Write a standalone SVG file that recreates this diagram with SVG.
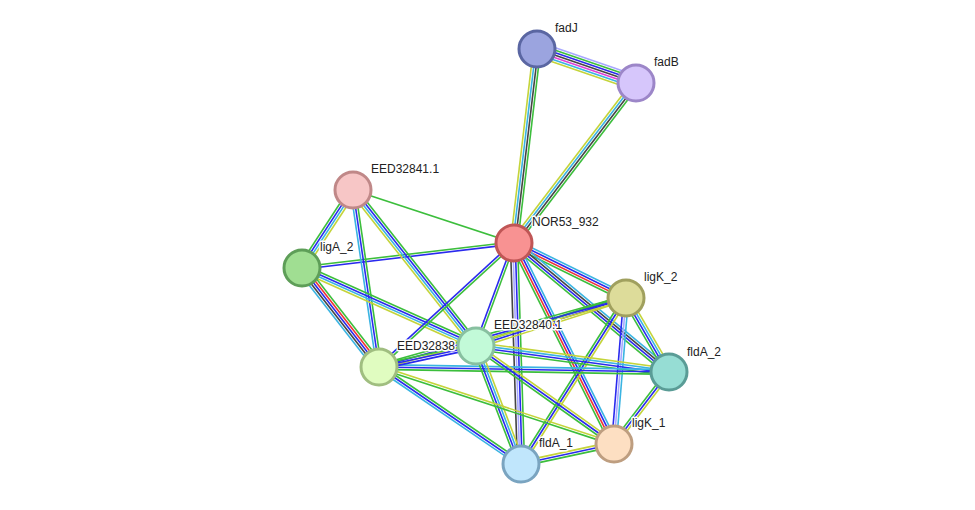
<svg xmlns="http://www.w3.org/2000/svg" width="975" height="510" viewBox="0 0 975 510">
<style>
path{fill:none;stroke-width:1.6}
.g{stroke:#3CBE3C}.b{stroke:#2A2AEE}.c{stroke:#3AB4E2}.y{stroke:#C4D43A}.k{stroke:#454545}.r{stroke:#EE3434}.m{stroke:#E040D6}.lv{stroke:#A8A8FF}
circle{stroke-width:3}
text{font-family:"Liberation Sans",Arial,sans-serif;font-size:12px;fill:#222;stroke:#fff;stroke-width:3px;paint-order:stroke;stroke-linejoin:round}
</style>
<rect width="975" height="510" fill="#fff"/>
<g id="edges">
<g transform="translate(537 49) rotate(18.95)"><path class="lv" d="M0-7.2H104.7"/><path class="g" d="M0-4.8H104.7"/><path class="b" d="M0-2.4H104.7"/><path class="k" d="M0 0H104.7"/><path class="m" d="M0 2.4H104.7"/><path class="c" d="M0 4.8H104.7"/><path class="y" d="M0 7.2H104.7"/></g>
<g transform="translate(537 49) rotate(96.76)"><path class="g" d="M0-3.6H195.4"/><path class="k" d="M0-1.2H195.4"/><path class="c" d="M0 1.2H195.4"/><path class="y" d="M0 3.6H195.4"/></g>
<g transform="translate(636 83) rotate(127.33)"><path class="g" d="M0-3.6H201.2"/><path class="k" d="M0-1.2H201.2"/><path class="c" d="M0 1.2H201.2"/><path class="y" d="M0 3.6H201.2"/></g>
<g transform="translate(353 190) rotate(18.22)"><path class="g" d="M0 0H169.5"/></g>
<g transform="translate(302 268) rotate(-6.73)"><path class="g" d="M0-1.2H213.5"/><path class="b" d="M0 1.2H213.5"/></g>
<g transform="translate(353 190) rotate(123.18)"><path class="y" d="M0-3.6H93.2"/><path class="c" d="M0-1.2H93.2"/><path class="b" d="M0 1.2H93.2"/><path class="g" d="M0 3.6H93.2"/></g>
<g transform="translate(353 190) rotate(81.64)"><path class="g" d="M0-2.4H178.9"/><path class="b" d="M0 0H178.9"/><path class="c" d="M0 2.4H178.9"/></g>
<g transform="translate(353 190) rotate(51.74)"><path class="g" d="M0-3.6H198.7"/><path class="b" d="M0-1.2H198.7"/><path class="c" d="M0 1.2H198.7"/><path class="y" d="M0 3.6H198.7"/></g>
<g transform="translate(302 268) rotate(52.13)"><path class="g" d="M0-4.8H125.4"/><path class="r" d="M0-2.4H125.4"/><path class="b" d="M0 0H125.4"/><path class="k" d="M0 2.4H125.4"/><path class="c" d="M0 4.8H125.4"/></g>
<g transform="translate(302 268) rotate(24.15)"><path class="g" d="M0-3.6H190.7"/><path class="b" d="M0-1.2H190.7"/><path class="c" d="M0 1.2H190.7"/><path class="y" d="M0 3.6H190.7"/></g>
<g transform="translate(514 243) rotate(137.43)"><path class="g" d="M0-1.2H183.3"/><path class="b" d="M0 1.2H183.3"/></g>
<g transform="translate(514 243) rotate(110.25)"><path class="g" d="M0-1.2H109.8"/><path class="b" d="M0 1.2H109.8"/></g>
<g transform="translate(514 243) rotate(88.19)"><path class="g" d="M0-3.6H221.1"/><path class="b" d="M0-1.2H221.1"/><path class="lv" d="M0 1.2H221.1"/><path class="k" d="M0 3.6H221.1"/></g>
<g transform="translate(514 243) rotate(26.16)"><path class="c" d="M0-3.6H124.8"/><path class="b" d="M0-1.2H124.8"/><path class="r" d="M0 1.2H124.8"/><path class="g" d="M0 3.6H124.8"/></g>
<g transform="translate(514 243) rotate(39.77)"><path class="c" d="M0-3.6H201.7"/><path class="k" d="M0-1.2H201.7"/><path class="b" d="M0 1.2H201.7"/><path class="g" d="M0 3.6H201.7"/></g>
<g transform="translate(514 243) rotate(63.55)"><path class="c" d="M0-3.6H224.5"/><path class="b" d="M0-1.2H224.5"/><path class="r" d="M0 1.2H224.5"/><path class="g" d="M0 3.6H224.5"/></g>
<g transform="translate(626 298) rotate(162.26)"><path class="y" d="M0-2.4H157.5"/><path class="b" d="M0 0H157.5"/><path class="g" d="M0 2.4H157.5" style="stroke-width:2.4"/></g>
<g transform="translate(626 298) rotate(164.39)"><path class="y" d="M0-2.4H256.5"/><path class="b" d="M0 0H256.5"/><path class="g" d="M0 2.4H256.5"/></g>
<g transform="translate(626 298) rotate(59.84)"><path class="y" d="M0-3.6H85.6"/><path class="c" d="M0-1.2H85.6"/><path class="b" d="M0 1.2H85.6"/><path class="g" d="M0 3.6H85.6"/></g>
<g transform="translate(626 298) rotate(94.70)"><path class="c" d="M0-2.4H146.5"/><path class="lv" d="M0 0H146.5"/><path class="b" d="M0 2.4H146.5"/></g>
<g transform="translate(626 298) rotate(122.31)"><path class="y" d="M0-2.4H196.4"/><path class="b" d="M0 0H196.4"/><path class="g" d="M0 2.4H196.4"/></g>
<g transform="translate(476 346) rotate(7.67)"><path class="y" d="M0-3.6H194.7"/><path class="c" d="M0-1.2H194.7"/><path class="b" d="M0 1.2H194.7"/><path class="g" d="M0 3.6H194.7"/></g>
<g transform="translate(379 367) rotate(0.99)"><path class="c" d="M0-2.4H290"/><path class="b" d="M0 0H290"/><path class="g" d="M0 2.4H290"/></g>
<g transform="translate(379 367) rotate(-12.22)"><path class="g" d="M0-2.4H99.2"/><path class="b" d="M0 0H99.2"/><path class="b" d="M0 2.4H99.2"/></g>
<g transform="translate(476 346) rotate(69.13)"><path class="y" d="M0-3.6H126.3"/><path class="c" d="M0-1.2H126.3"/><path class="b" d="M0 1.2H126.3"/><path class="g" d="M0 3.6H126.3"/></g>
<g transform="translate(476 346) rotate(35.38)"><path class="y" d="M0-2.4H169.3"/><path class="b" d="M0 0H169.3"/><path class="g" d="M0 2.4H169.3"/></g>
<g transform="translate(379 367) rotate(34.34)"><path class="g" d="M0-2.4H172"/><path class="b" d="M0 0H172"/><path class="c" d="M0 2.4H172"/></g>
<g transform="translate(379 367) rotate(18.14)"><path class="y" d="M0-1.2H247.3"/><path class="g" d="M0 1.2H247.3"/></g>
<g transform="translate(521 464) rotate(-12.14)"><path class="y" d="M0-2.4H95.1"/><path class="b" d="M0 0H95.1"/><path class="g" d="M0 2.4H95.1"/></g>
<g transform="translate(669 372) rotate(127.38)"><path class="y" d="M0-2.4H90.6"/><path class="b" d="M0 0H90.6"/><path class="g" d="M0 2.4H90.6"/></g>
</g>
<g id="fadJ"><circle cx="537" cy="49" r="18" fill="#9BA4DF" stroke="#5A66A2"/><text x="555" y="32">fadJ</text></g>
<g id="fadB"><circle cx="636" cy="83" r="18" fill="#D6C6FB" stroke="#9C86C8"/><text x="654" y="66">fadB</text></g>
<g id="EED32841.1"><circle cx="353" cy="190" r="18" fill="#F7C6C6" stroke="#C08888"/><text x="371" y="173">EED32841.1</text></g>
<g id="NOR53_932"><circle cx="514" cy="243" r="18" fill="#F89292" stroke="#C05656"/><text x="532" y="226">NOR53_932</text></g>
<g id="ligA_2"><circle cx="302" cy="268" r="18" fill="#A0DE92" stroke="#5E9E58"/><text x="320" y="251">ligA_2</text></g>
<g id="ligK_2"><circle cx="626" cy="298" r="18" fill="#DDDC9A" stroke="#A0A05E"/><text x="644" y="281">ligK_2</text></g>
<g id="EED32840.1"><circle cx="476" cy="346" r="18" fill="#C2FAD8" stroke="#88C0A0"/><text x="494" y="329">EED32840.1</text></g>
<g id="EED32838"><circle cx="379" cy="367" r="18" fill="#E0FCC0" stroke="#A0BE80"/><text x="397" y="350">EED32838</text></g>
<g id="fldA_2"><circle cx="669" cy="372" r="18" fill="#96DDD4" stroke="#5A9C96"/><text x="687" y="356">fldA_2</text></g>
<g id="ligK_1"><circle cx="614" cy="444" r="18" fill="#FDDFC2" stroke="#BE9E80"/><text x="632" y="427">ligK_1</text></g>
<g id="fldA_1"><circle cx="521" cy="464" r="18" fill="#C0E6FC" stroke="#7AA4C0"/><text x="539" y="447">fldA_1</text></g>
</svg>
